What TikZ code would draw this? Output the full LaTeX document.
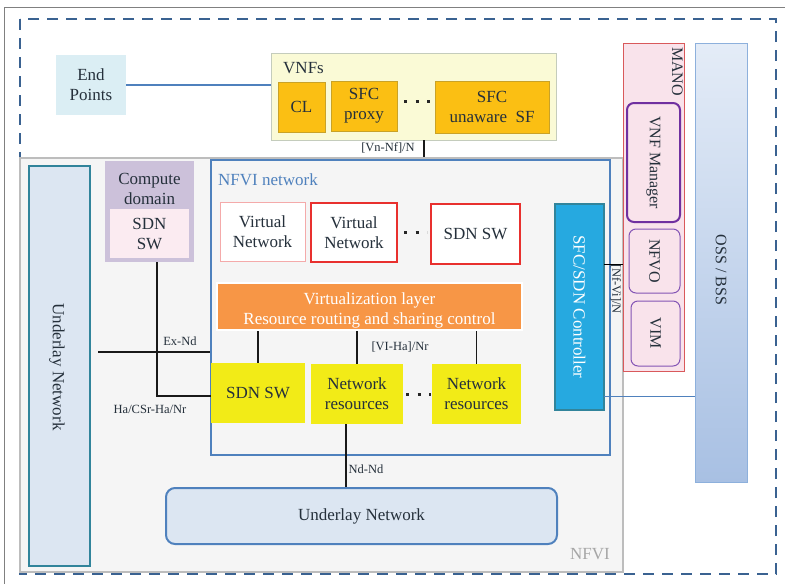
\documentclass[tikz,border=0pt]{standalone}
\usepackage{fontspec}
\setmainfont{Liberation Serif}
\definecolor{tc}{HTML}{25303B}
\definecolor{dashb}{HTML}{3A6291}
\definecolor{lblue}{HTML}{4F81BD}
\definecolor{epfill}{HTML}{DBEEF4}
\definecolor{vnffill}{HTML}{FAFAD6}
\definecolor{vnfdraw}{HTML}{C4CCBC}
\definecolor{orng}{HTML}{FBBF13}
\definecolor{orngd}{HTML}{C9A227}
\definecolor{nfvifill}{HTML}{F5F5F5}
\definecolor{nfvidraw}{HTML}{BDBDBD}
\definecolor{unfill}{HTML}{DCE6F2}
\definecolor{teal}{HTML}{31849B}
\definecolor{purp}{HTML}{CCC1DA}
\definecolor{pinkf}{HTML}{FBEBF1}
\definecolor{redb}{HTML}{E8302E}
\definecolor{lred}{HTML}{F4AAAA}
\definecolor{virto}{HTML}{F79646}
\definecolor{yell}{HTML}{F2EB17}
\definecolor{ctrlf}{HTML}{26A9E0}
\definecolor{manof}{HTML}{F9E3EB}
\definecolor{manod}{HTML}{D9595B}
\definecolor{vio}{HTML}{7030A0}
\definecolor{vio2}{HTML}{8455B5}
\definecolor{osst}{HTML}{E4ECF7}
\definecolor{ossb}{HTML}{A8C0E3}
\definecolor{ossd}{HTML}{8DB0DC}
\begin{document}
\begin{tikzpicture}[x=1pt,y=-1pt,
  txt/.style={font=\fontsize{17}{20}\selectfont, text=tc, align=center},
  stxt/.style={font=\fontsize{16}{19}\selectfont, text=tc, align=center},
  lbl/.style={font=\fontsize{12.5}{14}\selectfont, text=tc, inner sep=0},
  box/.style={txt, inner sep=0, minimum width=#1},
  conn/.style={line width=1.6pt, black!90},
  dotsline/.style={line width=3pt, black!85, dash pattern=on 3pt off 8.5pt},
]
\useasboundingbox (0,0) rectangle (785,584);
\fill[white] (0,0) rectangle (785,584);
% outer frame
\draw[gray, line width=1pt] (4,584) -- (4,7) -- (785,7);
\draw[dashb, line width=2.2pt, dash pattern=on 11pt off 8pt] (20,19) rectangle (776,574);

% NFVI area
\node[box=603pt, minimum height=414pt, fill=nfvifill, draw=nfvidraw, line width=1.5pt] (nfvi) at (321.5,365) {};
\node[font=\fontsize{17}{20}\selectfont, text=black!35] (nfvilbl) at (590,554) {NFVI};
\node[box=61pt, minimum height=400pt, fill=unfill, draw=teal, line width=2pt] (unv) at (59.5,366) {};
\node[txt, rotate=-90] (unvt) at (57,367) {Underlay Network};

\node[box=89pt, minimum height=101pt, fill=purp] (comp) at (149.5,211.5) {};
\node[txt] (compt) at (149.5,189) {Compute\\domain};
\node[box=79pt, minimum height=49pt, fill=pinkf] (compsw) at (149.5,233.5) {SDN\\SW};

\node[box=399pt, minimum height=295pt, fill=nfvifill, draw=lblue, line width=1.5pt] (nfvinet) at (410.5,307.5) {};
\node[txt, text=lblue, anchor=west, inner sep=0] (nfvinetl) at (218,180) {NFVI network};

\node[box=85pt, minimum height=59pt, fill=white, draw=lred, line width=0.8pt] (vn1) at (262.5,231.5) {Virtual\\Network};
\node[box=86pt, minimum height=59pt, fill=white, draw=redb, line width=2pt] (vn2) at (354,232.5) {Virtual\\Network};
\node[box=89pt, minimum height=60pt, fill=white, draw=redb, line width=2pt] (sdnsw1) at (475.5,234) {SDN SW};
\draw[dotsline, shorten <=6pt, shorten >=3pt] (vn2.east) -- (vn2.east -| sdnsw1.west);

\node[box=305pt, minimum height=47pt, fill=virto, draw=white, line width=1.5pt] (virt) at (369.5,306.5) {};
\node[txt, text=white] (virtt) at (369.5,310) {Virtualization layer\\Resource routing and sharing control};

\node[box=94pt, minimum height=60pt, fill=yell] (sdnsw2) at (258,393) {SDN SW};
\node[box=92pt, minimum height=60pt, fill=yell] (nr1) at (357,394) {Network\\resources};
\node[box=89pt, minimum height=60pt, fill=yell] (nr2) at (476.5,394) {Network\\resources};
\draw[dotsline, shorten <=3pt, shorten >=1pt] (nr1.east) -- (nr1.east -| nr2.west);

\draw[conn] (sdnsw2.north) -- (sdnsw2.north |- virt.south);
\draw[conn] (nr1.north) -- (nr1.north |- virt.south);
\draw[conn] (nr2.north) -- (nr2.north |- virt.south);
\node[lbl] (viha) at (400,347) {[VI-Ha]/Nr};

\node[box=391pt, minimum height=56pt, fill=unfill, draw=lblue, line width=2pt, rounded corners=9pt] (unh) at (361.5,516) {Underlay Network};
\coordinate (ndtop) at (346,424);
\draw[conn] (ndtop) -- (ndtop |- unh.north);
\node[lbl] (ndnd) at (366,469) {Nd-Nd};

% Ex-Nd and Ha links
\coordinate (exs) at (98,352);
\draw[conn] (exs) -- (exs -| nfvinet.west);
\node[lbl] (exnd) at (180,341) {Ex-Nd};
\coordinate (has) at (157,262);
\draw[conn] (has) -- (157,396) -- (157,396 -| sdnsw2.west);
\node[lbl] (hacsr) at (150,409) {Ha/CSr-Ha/Nr};

% VNFs
\node[box=70pt, minimum height=60pt, fill=epfill] (ep) at (91,85) {End\\Points};
\node[box=285pt, minimum height=87pt, fill=vnffill, draw=vnfdraw, line width=1pt] (vnfs) at (413.5,96.5) {};
\node[txt, anchor=west, inner sep=0] (vnfsl) at (283,68) {VNFs};
\node[box=47pt, minimum height=50pt, fill=orng, draw=orngd, line width=0.8pt] (cl) at (301.5,107) {CL};
\node[box=66pt, minimum height=50pt, fill=orng, draw=orngd, line width=0.8pt] (sfcp) at (364,106) {SFC\\proxy};
\node[box=114pt, minimum height=52pt, fill=orng, draw=orngd, line width=0.8pt] (sfcu) at (492,107) {SFC\\unaware\enspace SF};
\draw[dotsline, shorten <=7pt, shorten >=3pt] (sfcp.east) ++(0,-5) -- (sfcu.west |- 0,101);
\draw[lblue, line width=1.5pt] (ep.east) -- (ep.east -| vnfs.west);
\coordinate (vnfb) at (424,140);
\draw[conn] (vnfb) -- (vnfb |- nfvi.north);
\node[lbl] (vnnf) at (388,148) {[Vn-Nf]/N};

% controller, MANO, OSS
\node[box=49pt, minimum height=206pt, fill=ctrlf, draw=teal, line width=2pt] (ctrl) at (579.5,307) {};
\node[txt, text=white, rotate=-90] (ctrlt) at (579.5,307) {SFC/SDN Controller};
\node[box=61pt, minimum height=328pt, fill=manof, draw=manod, line width=0.8pt] (mano) at (653.5,207) {};
\node[stxt, rotate=-90, anchor=north west, inner sep=1pt] (manot) at (684,46) {MANO};
\node[box=53pt, minimum height=119pt, fill=manof, draw=vio, line width=2pt, rounded corners=7pt] (vnfm) at (653.5,162.5) {};
\node[stxt, rotate=-90] (vnfmt) at (653.5,162.5) {VNF Manager};
\node[box=51pt, minimum height=64pt, fill=manof, draw=vio2, line width=1pt, rounded corners=7pt] (nfvo) at (654.5,261) {};
\node[stxt, rotate=-90] (nfvot) at (654.5,261) {NFVO};
\node[box=49pt, minimum height=65pt, fill=manof, draw=vio2, line width=1pt, rounded corners=7pt] (vim) at (655.5,333.5) {};
\node[stxt, rotate=-90] (vimt) at (655.5,333.5) {VIM};
\node[box=52pt, minimum height=439pt, top color=osst, bottom color=ossb, draw=ossd, line width=1pt] (oss) at (721,262.5) {};
\node[stxt, rotate=-90] (osst) at (721,270) {OSS / BSS};

\coordinate (cm) at (604,264);
\draw[black, line width=1pt] (cm) -- (cm -| mano.west);
\node[lbl, rotate=-90] (nfvi2) at (616,289) {[Nf-Vi]/N};
\coordinate (co) at (604,396);
\draw[lblue, line width=1pt] (co) -- (co -| oss.west);
\end{tikzpicture}
\end{document}
